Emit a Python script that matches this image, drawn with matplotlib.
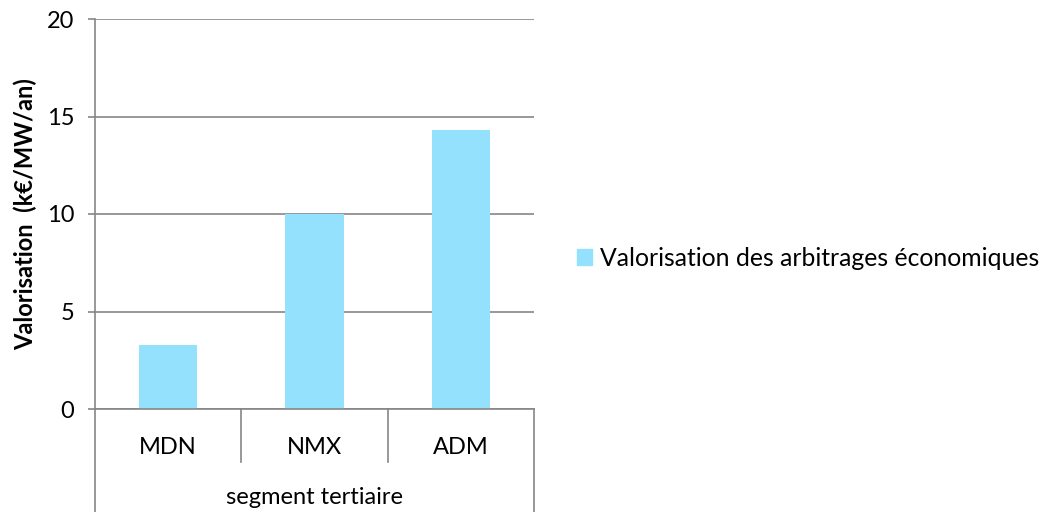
import matplotlib

matplotlib.use("Agg")
import matplotlib.pyplot as plt
from matplotlib.patches import Patch

# donnees
categories = ["MDN", "NMX", "ADM"]
valeurs = [3.3, 10.0, 14.3]
groupe = "segment tertiaire"
serie = "Valorisation des arbitrages économiques"

COULEUR_BARRE = "#93E1FD"
COULEUR_TRAIT = "#868686"

plt.rcParams["font.family"] = ["Lato", "DejaVu Sans"]

fig = plt.figure(figsize=(10.47, 5.12), dpi=100)
ax = fig.add_axes([95 / 1047, 1 - 409 / 512, (534 - 95) / 1047, (409 - 19) / 512])

x = list(range(len(categories)))
ax.bar(x, valeurs, width=0.4, color=COULEUR_BARRE, zorder=2)
ax.set_xlim(-0.5, len(categories) - 0.5)
ax.set_ylim(0, 20)
ax.set_yticks([0, 5, 10, 15, 20])
ax.tick_params(axis="y", length=5, width=1.2, color=COULEUR_TRAIT, labelsize=17, pad=10)
ax.yaxis.grid(True, color=COULEUR_TRAIT, linewidth=1.2, zorder=0)
ax.set_axisbelow(True)
for cote in ["top", "right"]:
    ax.spines[cote].set_visible(False)
for cote in ["left", "bottom"]:
    ax.spines[cote].set_color(COULEUR_TRAIT)
    ax.spines[cote].set_linewidth(1.2)

ax.set_xticks(x)
ax.set_xticklabels(categories, fontsize=17)
ax.tick_params(axis="x", length=0, pad=20)

# axe de categories a deux niveaux
trans = ax.get_xaxis_transform()
for sep in [i + 0.5 for i in x[:-1]]:
    ax.plot([sep, sep], [0, -0.135], transform=trans, color=COULEUR_TRAIT, lw=1.2, clip_on=False)
for bord in [-0.5, len(categories) - 0.5]:
    ax.plot([bord, bord], [0, -0.3], transform=trans, color=COULEUR_TRAIT, lw=1.2, clip_on=False)
ax.text((len(categories) - 1) / 2, -0.228, groupe, transform=trans, ha="center", va="center", fontsize=17)

ax.set_ylabel("Valorisation  (k€/MW/an)", fontsize=17, fontweight="bold", labelpad=7)

fig.legend(
    handles=[Patch(color=COULEUR_BARRE, label=serie)],
    loc="center left",
    bbox_to_anchor=(577 / 1047, 1 - 258 / 512),
    frameon=False,
    fontsize=17.8,
    borderaxespad=0,
    borderpad=0,
    handlelength=0.6,
    handleheight=0.6,
    handletextpad=0.35,
)

fig.savefig("out.png", dpi=100)
